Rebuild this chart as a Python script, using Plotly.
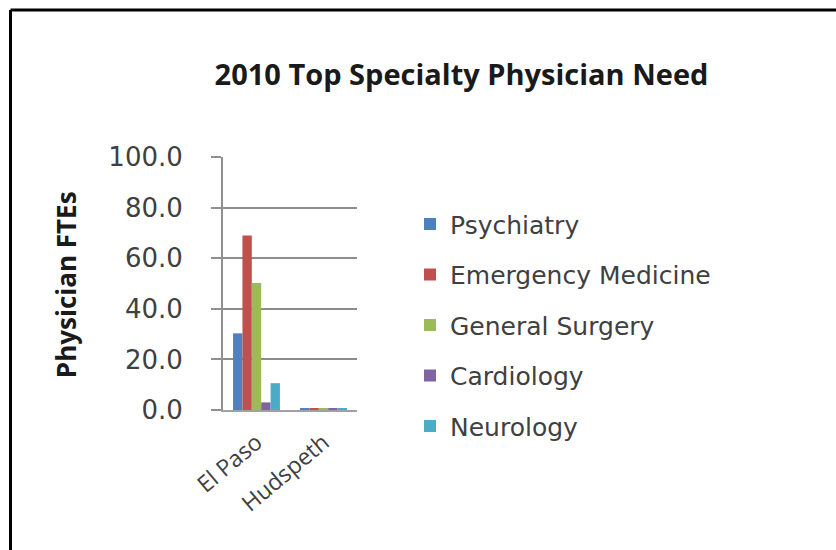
import plotly.graph_objects as go

categories = ["El Paso", "Hudspeth"]
series_names = ["Psychiatry", "Emergency Medicine", "General Surgery", "Cardiology", "Neurology"]
psychiatry = [30.3, 0.8]
emergency_medicine = [69.0, 0.8]
general_surgery = [50.2, 0.8]
cardiology = [3.0, 0.8]
neurology = [10.6, 0.8]
y_ticks = [0, 20, 40, 60, 80, 100]
y_tick_labels = ["0.0", "20.0", "40.0", "60.0", "80.0", "100.0"]

colors = ["#4F81BD", "#C0504D", "#9BBB59", "#8064A2", "#4BACC6"]
values = [psychiatry, emergency_medicine, general_surgery, cardiology, neurology]

W, H = 836, 550
L, R, T, B = 223, 357, 156.7, 410

fig = go.Figure()
for name, vals, col in zip(series_names, values, colors):
    fig.add_trace(go.Bar(
        x=categories, y=vals, name=name, legendgroup=name,
        marker=dict(color=col, line=dict(color=col, width=0)),
    ))

def px_x(p):
    return (p - L) / (R - L)

def px_y(p):
    return (B - p) / (B - T)

font_family = "Open Sans, DejaVu Sans, sans-serif"
wide_font = "DejaVu Sans, sans-serif"

fig.update_layout(
    width=W, height=H,
    margin=dict(l=L, r=W - R, t=T, b=H - B, pad=0),
    paper_bgcolor="white", plot_bgcolor="white",
    barmode="group", bargap=0.3, bargroupgap=0,
    font=dict(family=font_family, color="#404040"),
    title=dict(
        text="<b>2010 Top Specialty Physician Need</b>",
        x=461.5 / W, xanchor="center", y=1 - 75 / H, yanchor="middle",
        font=dict(size=29, color="#1a1a1a", family=font_family),
    ),
    xaxis=dict(
        tickangle=-40, tickfont=dict(size=23, color="#404040"),
        showline=True, linecolor="#a0a0a0", linewidth=2,
        showgrid=False, ticks="", ticklabelstandoff=8,
    ),
    yaxis=dict(
        range=[0, 100], tickvals=y_ticks, ticktext=y_tick_labels,
        tickfont=dict(size=26, color="#404040", family=wide_font),
        showline=True, linecolor="#909090", linewidth=2,
        ticks="outside", ticklen=10, tickwidth=2, tickcolor="#909090",
        showgrid=True, gridcolor="#8c8c8c", gridwidth=2,
        zeroline=False, ticklabelstandoff=23,
    ),
    legend=dict(
        x=px_x(410), xanchor="left", y=px_y(201), yanchor="top",
        font=dict(size=25, color="#404040", family=wide_font),
        tracegroupgap=15, bgcolor="rgba(0,0,0,0)",
    ),
    showlegend=True,
)

fig.add_annotation(
    text="<b>Physician FTEs</b>", textangle=-90,
    xref="paper", yref="paper", x=px_x(66), y=px_y(285),
    xanchor="center", yanchor="middle", showarrow=False,
    font=dict(size=26, color="#1a1a1a", family=font_family),
)

# outer frame (top and left edges visible)
fig.add_shape(type="line", xref="paper", yref="paper",
              x0=px_x(10.5), x1=px_x(840), y0=px_y(9.5), y1=px_y(9.5),
              line=dict(color="black", width=3))
fig.add_shape(type="line", xref="paper", yref="paper",
              x0=px_x(10.5), x1=px_x(10.5), y0=px_y(9.5), y1=px_y(555),
              line=dict(color="black", width=3))

fig.write_html("out.html", config={"displayModeBar": False},
               post_script="document.body.style.margin='0';document.body.style.overflow='hidden';")
